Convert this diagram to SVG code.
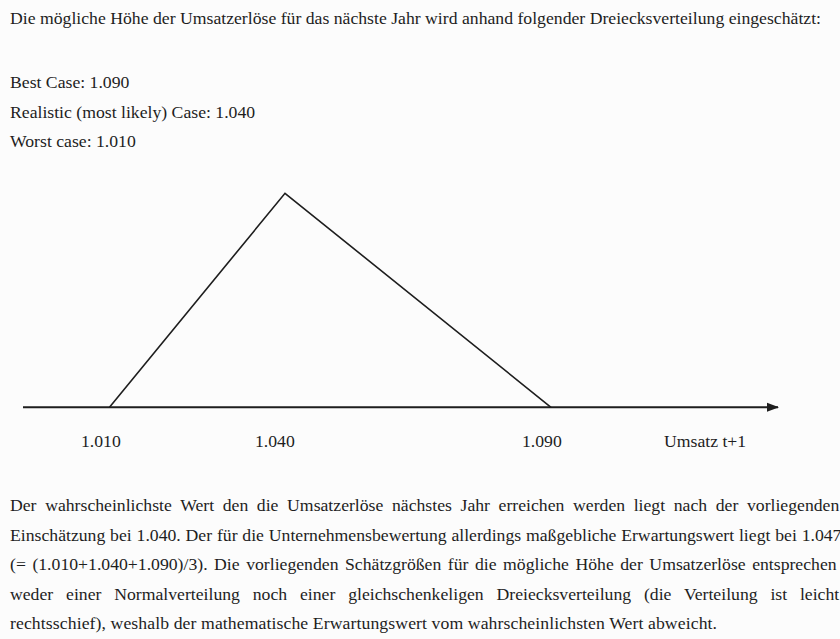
<svg xmlns="http://www.w3.org/2000/svg" width="840" height="639" viewBox="0 0 840 639">
  <style>
    text { font-family: "Liberation Serif", "Times New Roman", serif; font-size: 17.7px; fill: #1e1e1e; }
    .line { fill: none; stroke: #1e1e1e; stroke-width: 1.6; }
    .axis { fill: none; stroke: #1e1e1e; stroke-width: 2; }
  </style>
  <defs>
    <marker id="arrow" viewBox="0 0 12 10" refX="11" refY="5" markerWidth="12" markerHeight="10" markerUnits="userSpaceOnUse" orient="auto">
      <path d="M0,0.5 L12,5 L0,9.5 Z" fill="#1e1e1e"/>
    </marker>
  </defs>
  <rect x="0" y="0" width="840" height="639" fill="#fcfcfc"/>

  <g id="intro">
    <text x="10" y="24.3" textLength="811" lengthAdjust="spacingAndGlyphs">Die mögliche Höhe der Umsatzerlöse für das nächste Jahr wird anhand folgender Dreiecksverteilung eingeschätzt:</text>
    <text x="10" y="87.7">Best Case: 1.090</text>
    <text x="10" y="117.5">Realistic (most likely) Case: 1.040</text>
    <text x="10" y="147">Worst case: 1.010</text>
  </g>

  <g id="chart">
    <g id="connectors">
      <line id="axis" class="axis" x1="23" y1="407.3" x2="778" y2="407.3" marker-end="url(#arrow)"/>
    </g>
    <g id="triangle">
      <polyline class="line" points="109.5,407.3 285,193.3 551,407.3"/>
    </g>
    <g id="labels">
      <text x="81" y="446.7">1.010</text>
      <text x="255" y="446.7">1.040</text>
      <text x="522" y="446.7">1.090</text>
      <text x="664" y="446.7">Umsatz t+1</text>
    </g>
  </g>

  <g id="paragraph">
    <text x="10" y="511" style="word-spacing:4.2px">Der wahrscheinlichste Wert den die Umsatzerlöse nächstes Jahr erreichen werden liegt nach der vorliegenden</text>
    <text x="10" y="540.5" style="word-spacing:0.4px">Einschätzung bei 1.040. Der für die Unternehmensbewertung allerdings maßgebliche Erwartungswert liegt bei 1.047</text>
    <text x="10" y="570" style="word-spacing:2.1px">(= (1.010+1.040+1.090)/3). Die vorliegenden Schätzgrößen für die mögliche Höhe der Umsatzerlöse entsprechen</text>
    <text x="10" y="599.5" style="word-spacing:8.4px">weder einer Normalverteilung noch einer gleichschenkeligen Dreiecksverteilung (die Verteilung ist leicht</text>
    <text x="10" y="629" textLength="707" lengthAdjust="spacing">rechtsschief), weshalb der mathematische Erwartungswert vom wahrscheinlichsten Wert abweicht.</text>
  </g>
</svg>
